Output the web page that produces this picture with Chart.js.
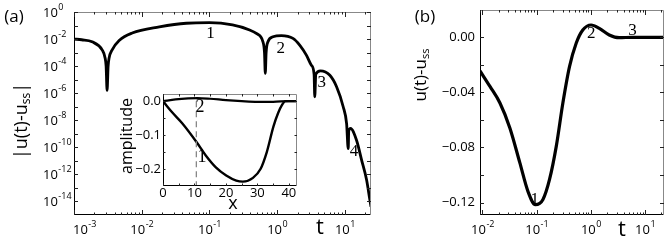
<!DOCTYPE html>
<html lang="en">
<head>
    <meta charset="UTF-8">
    <title>Relaxation of u(t)</title>
    <script src="https://cdn.jsdelivr.net/npm/chart.js"></script>
    <style>
        body { margin: 0; background: #fff; }
        #wrap { position: relative; width: 665px; height: 245px; }
        .box { position: absolute; }
    </style>
</head>
<body>
<div id="wrap">
    <div class="box" style="left:0;top:0;width:380px;height:245px"><canvas id="chartA"></canvas></div>
    <div class="box" style="left:115px;top:86px;width:190px;height:128px"><canvas id="chartInset"></canvas></div>
    <div class="box" style="left:395px;top:0;width:270px;height:245px"><canvas id="chartB"></canvas></div>
</div>
<script>
// panel (a): |u(t)-u_ss| on log-log axes
const tA = [0.001, 0.0013, 0.00185, 0.0026, 0.00288, 0.00298, 0.00308, 0.00319, 0.0033, 0.00366, 0.00464,
    0.00723, 0.0182, 0.0456, 0.1, 0.219, 0.392, 0.492, 0.617, 0.65, 0.668, 0.687, 0.731, 0.867, 1.153,
    1.71, 2.15, 2.7, 3.2, 3.51, 3.59, 3.72, 4.36, 6.0, 7.54, 9.44, 10.6, 11.2, 11.4, 12.1, 14.9, 17.7,
    20.9, 23.4, 24.3];
const uA = [1.0e-2, 8.9e-3, 6.3e-3, 1.6e-3, 4.0e-4, 1.0e-4, 1.6e-6, 1.0e-4, 4.0e-4, 1.6e-3, 7.9e-3,
    2.8e-2, 7.9e-2, 1.48e-1, 1.62e-1, 1.1e-1, 4.7e-2, 2.6e-2, 6.3e-3, 1.0e-3, 2.9e-5, 1.0e-3, 6.3e-3, 1.48e-2, 1.78e-2,
    1.12e-2, 3.6e-3, 6.5e-4, 1.17e-4, 2.5e-5, 5.4e-7, 2.5e-5, 4.5e-5, 2.1e-5, 3.0e-6, 1.0e-7, 5.6e-9, 7.9e-11, 1.6e-9, 2.5e-9, 3.2e-10, 1.1e-11,
    4.0e-13, 1.26e-14, 4.0e-15];
const labelsA = [
    { text: '1', t: 0.1035, u: 2.78e-2 },
    { text: '2', t: 1.127, u: 2.15e-3 },
    { text: '3', t: 4.56, u: 6.5e-6 },
    { text: '4', t: 13.6, u: 5.0e-11 }
];
const xExpA = [-3, -2, -1, 0, 1];
const yExpA = [0, -2, -4, -6, -8, -10, -12, -14];

// inset: mode shapes
const xMode1 = [0, 2.9, 6.1, 10.7, 13.6, 16.8, 20.1, 23.3, 25.4, 28.6, 31.0, 33.0, 35.1, 36.6, 37.8, 38.9, 42.6];
const mode1 = [0, -0.033, -0.065, -0.121, -0.160, -0.195, -0.219, -0.234, -0.237, -0.226, -0.200, -0.150, -0.075, -0.035, -0.012, 0, 0];
const xMode2 = [0, 4, 8, 11, 15, 20, 25, 30, 35, 40, 42.6];
const mode2 = [0, 0.005, 0.008, 0.009, 0.007, 0.003, 0, -0.002, -0.002, 0, 0];
const guideX = 10.6;
const labelsInset = [
    { text: '2', x: 11.8, y: -0.019 },
    { text: '1', x: 12.4, y: -0.166 }
];
const xTicksInset = [0, 10, 20, 30, 40];
const yTicksInset = [0, -0.1, -0.2];

// panel (b): u(t)-u_ss
const tB = [0.009, 0.01374, 0.021, 0.032, 0.0488, 0.0692, 0.0946, 0.1305, 0.173, 0.23, 0.304, 0.403,
    0.535, 0.708, 1.01, 1.43, 2.18, 3.33, 5.76, 22.3];
const uB = [-0.0244, -0.0357, -0.0477, -0.0658, -0.091, -0.112, -0.1215, -0.1177, -0.103, -0.079, -0.0477, -0.0213,
    -0.0043, 0.0053, 0.0089, 0.0065, 0.0017, -0.0003, 0, 0];
const labelsB = [
    { text: '1', t: 0.0918, u: -0.118 },
    { text: '2', t: 1.01, u: 0.0024 },
    { text: '3', t: 5.85, u: 0.0049 }
];
const xExpB = [-2, -1, 0, 1];
const yTicksB = [0, -0.04, -0.08, -0.12];

const SANS = '"Open Sans", sans-serif';
const SERIF = '"Liberation Serif", serif';

function pts(xs, ys) { return xs.map((x, i) => ({ x: x, y: ys[i] })); }

// tick values on a log axis: m * 10^e inside [min, max]
function logValues(min, max, mantissas) {
    const out = [];
    for (let e = Math.floor(Math.log10(min)); e <= Math.ceil(Math.log10(max)); e++) {
        mantissas.forEach(m => {
            const v = m * Math.pow(10, e);
            if (v >= min * 0.999 && v <= max * 1.001) out.push(v);
        });
    }
    return out;
}

function frame(chart) {
    const { ctx, chartArea: a } = chart;
    const l = Math.round(a.left) + 0.5, r = Math.round(a.right) - 0.5;
    const t = Math.round(a.top) + 0.5, b = Math.round(a.bottom) - 0.5;
    ctx.save();
    ctx.lineWidth = 1;
    ctx.strokeStyle = '#000';
    ctx.beginPath(); ctx.moveTo(l, t); ctx.lineTo(l, b); ctx.lineTo(r, b); ctx.stroke();
    ctx.strokeStyle = '#888';
    ctx.beginPath(); ctx.moveTo(l, t); ctx.lineTo(r, t); ctx.lineTo(r, b); ctx.stroke();
    ctx.restore();
}

// inward tick marks on both sides of the box
function inward(chart, axis, values, len) {
    const { ctx, chartArea: a } = chart;
    const s = chart.scales[axis];
    ctx.save();
    ctx.strokeStyle = '#222';
    ctx.lineWidth = 1;
    ctx.beginPath();
    values.forEach(v => {
        const p = Math.round(s.getPixelForValue(v)) + 0.5;
        if (axis === 'x') {
            if (p < a.left || p > a.right) return;
            ctx.moveTo(p, a.bottom); ctx.lineTo(p, a.bottom - len);
            ctx.moveTo(p, a.top); ctx.lineTo(p, a.top + len);
        } else {
            if (p < a.top || p > a.bottom) return;
            ctx.moveTo(a.left, p); ctx.lineTo(a.left + len, p);
            ctx.moveTo(a.right, p); ctx.lineTo(a.right - len, p);
        }
    });
    ctx.stroke();
    ctx.restore();
}

function label(ctx, str, x, y, font, align) {
    ctx.font = font;
    ctx.textAlign = align || 'center';
    ctx.textBaseline = 'middle';
    ctx.fillStyle = '#000';
    ctx.fillText(str, x, y);
}

// "10" with a raised exponent
function powLabel(ctx, exp, x, y, align, minX) {
    ctx.font = '13px ' + SANS;
    const w1 = ctx.measureText('10').width;
    ctx.font = '9px ' + SANS;
    const sup = String(exp);
    const w2 = ctx.measureText(sup).width;
    let x0 = align === 'center' ? x - (w1 + w2) / 2 : x;
    if (minX !== undefined && x0 < minX) x0 = minX;
    ctx.fillStyle = '#000';
    ctx.textAlign = 'left';
    ctx.textBaseline = 'middle';
    ctx.font = '13px ' + SANS;
    ctx.fillText('10', x0, y);
    ctx.font = '9px ' + SANS;
    ctx.fillText(sup, x0 + w1 + 0.5, y - 6);
}

// rotated title built from [text, size, offset] pieces
function sideTitle(ctx, parts, x, y) {
    let total = 0;
    parts.forEach(p => { ctx.font = p[1] + 'px ' + SANS; p.w = ctx.measureText(p[0]).width; total += p.w; });
    ctx.save();
    ctx.translate(x, y);
    ctx.rotate(-Math.PI / 2);
    ctx.fillStyle = '#000';
    ctx.textAlign = 'left';
    ctx.textBaseline = 'middle';
    let cx = -total / 2;
    parts.forEach(p => {
        ctx.font = p[1] + 'px ' + SANS;
        ctx.fillText(p[0], cx, p[2]);
        cx += p.w;
    });
    ctx.restore();
}

function curveLabels(chart, list, xKey, yKey, size) {
    const sx = chart.scales.x, sy = chart.scales.y;
    list.forEach(l => label(chart.ctx, l.text, sx.getPixelForValue(l[xKey]), sy.getPixelForValue(l[yKey]), size + 'px ' + SERIF));
}

function hiddenAxis(type, min, max, size, isY) {
    return {
        type: type, min: min, max: max,
        ticks: { display: false },
        grid: { display: false },
        border: { display: false },
        afterFit: s => { if (isY) s.width = size; else s.height = size; }
    };
}

function lineSet(data, width, extra) {
    return Object.assign({
        data: data,
        showLine: true,
        borderColor: '#000',
        borderWidth: width,
        pointRadius: 0,
        cubicInterpolationMode: 'monotone',
        fill: false
    }, extra || {});
}

const decorA = {
    id: 'decorA',
    afterDraw(chart) {
        const ctx = chart.ctx, a = chart.chartArea;
        const sx = chart.scales.x, sy = chart.scales.y;
        frame(chart);
        inward(chart, 'x', logValues(sx.min, sx.max, [1]), 5);
        inward(chart, 'x', logValues(sx.min, sx.max, [2, 3, 4, 5, 6, 7, 8, 9]), 2.5);
        inward(chart, 'y', logValues(sy.min, sy.max, [1]), 4);
        xExpA.forEach(e => powLabel(ctx, e, sx.getPixelForValue(Math.pow(10, e)), a.bottom + 15, 'center', a.left - 1));
        yExpA.forEach(e => powLabel(ctx, e, 43, sy.getPixelForValue(Math.pow(10, e)) + 1, 'left'));
        curveLabels(chart, labelsA, 't', 'u', 17);
        label(ctx, '(a)', 14, 17, '17px ' + SANS);
        label(ctx, 't', 320, 228, '22px ' + SANS);
        sideTitle(ctx, [['|u(t)-u', 18, 0], ['ss', 12, 5], ['|', 18, 0]], 22, 121);
    }
};

const decorInset = {
    id: 'decorInset',
    afterDraw(chart) {
        const ctx = chart.ctx, a = chart.chartArea;
        const sx = chart.scales.x, sy = chart.scales.y;
        frame(chart);
        inward(chart, 'x', [0, 5, 10, 15, 20, 25, 30, 35, 40], 2.5);
        inward(chart, 'y', [0, -0.05, -0.1, -0.15, -0.2], 2.5);
        xTicksInset.forEach(v => label(ctx, String(v), sx.getPixelForValue(v), a.bottom + 7, '13px ' + SANS));
        yTicksInset.forEach(v => label(ctx, v === 0 ? '0.0' : '\u2212' + Math.abs(v).toFixed(1),
            a.left - 2, sy.getPixelForValue(v), '13px ' + SANS, 'right'));
        curveLabels(chart, labelsInset, 'x', 'y', 18);
        label(ctx, 'x', 118, 118, '18px ' + SANS);
        sideTitle(ctx, [['amplitude', 16, 0]], 12, 50);
    }
};

const decorB = {
    id: 'decorB',
    afterDraw(chart) {
        const ctx = chart.ctx, a = chart.chartArea;
        const sx = chart.scales.x, sy = chart.scales.y;
        frame(chart);
        inward(chart, 'x', logValues(sx.min, sx.max, [1]), 5);
        inward(chart, 'x', logValues(sx.min, sx.max, [2, 3, 4, 5, 6, 7, 8, 9]), 2.5);
        inward(chart, 'y', [0, -0.02, -0.04, -0.06, -0.08, -0.1, -0.12], 4);
        xExpB.forEach(e => powLabel(ctx, e, sx.getPixelForValue(Math.pow(10, e)), a.bottom + 15, 'center'));
        yTicksB.forEach(v => label(ctx, v === 0 ? '0.00' : '\u2212' + Math.abs(v).toFixed(2),
            a.left - 5, sy.getPixelForValue(v), '13px ' + SANS, 'right'));
        curveLabels(chart, labelsB, 't', 'u', 17);
        label(ctx, '(b)', 30, 17, '17px ' + SANS);
        label(ctx, 't', 227, 230, '22px ' + SANS);
        sideTitle(ctx, [['u(t)-u', 17, 0], ['ss', 11, 5]], 26, 75);
    }
};

const common = {
    responsive: true,
    maintainAspectRatio: false,
    animation: false,
    events: [],
    plugins: { legend: { display: false }, tooltip: { enabled: false } }
};

new Chart(document.getElementById('chartA'), {
    type: 'scatter',
    data: { datasets: [lineSet(pts(tA, uA), 2.8)] },
    options: Object.assign({}, common, {
        layout: { padding: { top: 12, right: 9, left: 0, bottom: 0 } },
        scales: {
            x: hiddenAxis('logarithmic', 1e-3, 24.3, 30, false),
            y: hiddenAxis('logarithmic', 1e-15, 1, 74, true)
        }
    }),
    plugins: [decorA]
});

new Chart(document.getElementById('chartInset'), {
    type: 'scatter',
    data: {
        datasets: [
            lineSet([{ x: guideX, y: 0 }, { x: guideX, y: -0.25 }], 1.3, { borderColor: '#888', borderDash: [6, 4], cubicInterpolationMode: 'default' }),
            lineSet(pts(xMode2, mode2), 2.2),
            lineSet(pts(xMode1, mode1), 2.4)
        ]
    },
    options: Object.assign({}, common, {
        layout: { padding: { top: 8, right: 8, left: 0, bottom: 0 } },
        scales: {
            x: hiddenAxis('linear', 0, 42.6, 28, false),
            y: hiddenAxis('linear', -0.25, 0.021, 48, true)
        }
    }),
    plugins: [decorInset]
});

new Chart(document.getElementById('chartB'), {
    type: 'scatter',
    data: { datasets: [lineSet(pts(tB, uB), 3.2)] },
    options: Object.assign({}, common, {
        layout: { padding: { top: 10, right: 1, left: 0, bottom: 0 } },
        scales: {
            x: hiddenAxis('logarithmic', 0.009, 22.3, 30, false),
            y: hiddenAxis('linear', -0.129, 0.0198, 85, true)
        }
    }),
    plugins: [decorB]
});
</script>
</body>
</html>
